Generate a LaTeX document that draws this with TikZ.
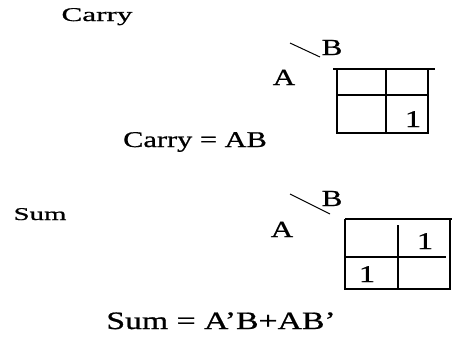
\documentclass[tikz,border=0pt]{standalone}
\usepackage{fontspec}
\setmainfont{Liberation Serif}[FakeStretch=1.35, FakeBold=0.8]
\newfontfamily\widefont{Liberation Serif}[FakeStretch=1.6, FakeBold=0.8]
\usepackage{tikz}
\usetikzlibrary{positioning}

\begin{document}
\begin{tikzpicture}[
      x=1pt, y=-1pt,
      every node/.style={inner sep=0pt, anchor=base},
      lbl/.style={font=\fontsize{23}{26}\selectfont},
      eqn/.style={font=\fontsize{22.5}{26}\selectfont},
      head/.style={font=\widefont\fontsize{19.5}{22}\selectfont},
      cell/.style={font=\fontsize{24}{26}\selectfont},
      kmap/.style={line width=1.7pt},
      slash/.style={line width=1pt}
    ]
      \useasboundingbox (0,0) rectangle (457,341);

      % carry
      \node[head] (carryhead) at (97,21) {Carry};
      \node[lbl] (a1) at (284,85) {A};
      \node[lbl] (b1) at (332,55) {B};
      \coordinate (s1) at (290,43);
      \coordinate (e1) at (320,57);
      \draw[slash] (s1) -- (e1);

      \draw[kmap] (333,69) -- (435,69);
      \draw[kmap] (337,69) -- (337,133) -- (428,133) -- (428,69);
      \draw[kmap] (386,69) -- (386,133);
      \draw[kmap] (337,95) -- (428,95);
      \node[cell] (c11) at (413,127) {1};

      \node[eqn] (carryeq) at (195,147) {Carry = AB};

      % sum
      \node[head, font=\widefont\fontsize{18}{20}\selectfont] (sumhead) at (40,220) {Sum};
      \node[lbl] (a2) at (282,237) {A};
      \node[lbl] (b2) at (332,206) {B};
      \coordinate (s2) at (290,194);
      \coordinate (e2) at (330,214);
      \draw[slash] (s2) -- (e2);

      \draw[kmap] (345,219) -- (452,219);
      \draw[kmap] (345,219) -- (345,289) -- (450,289) -- (450,219);
      \draw[kmap] (398,225) -- (398,289);
      \draw[kmap] (345,257) -- (446,257);
      \node[cell] (s01) at (425,249) {1};
      \node[cell] (s10) at (367,282) {1};

      \node[eqn, font=\fontsize{25}{28}\selectfont] (sumeq) at (221,329) {Sum = A'B+AB'};
    \end{tikzpicture}
\end{document}
